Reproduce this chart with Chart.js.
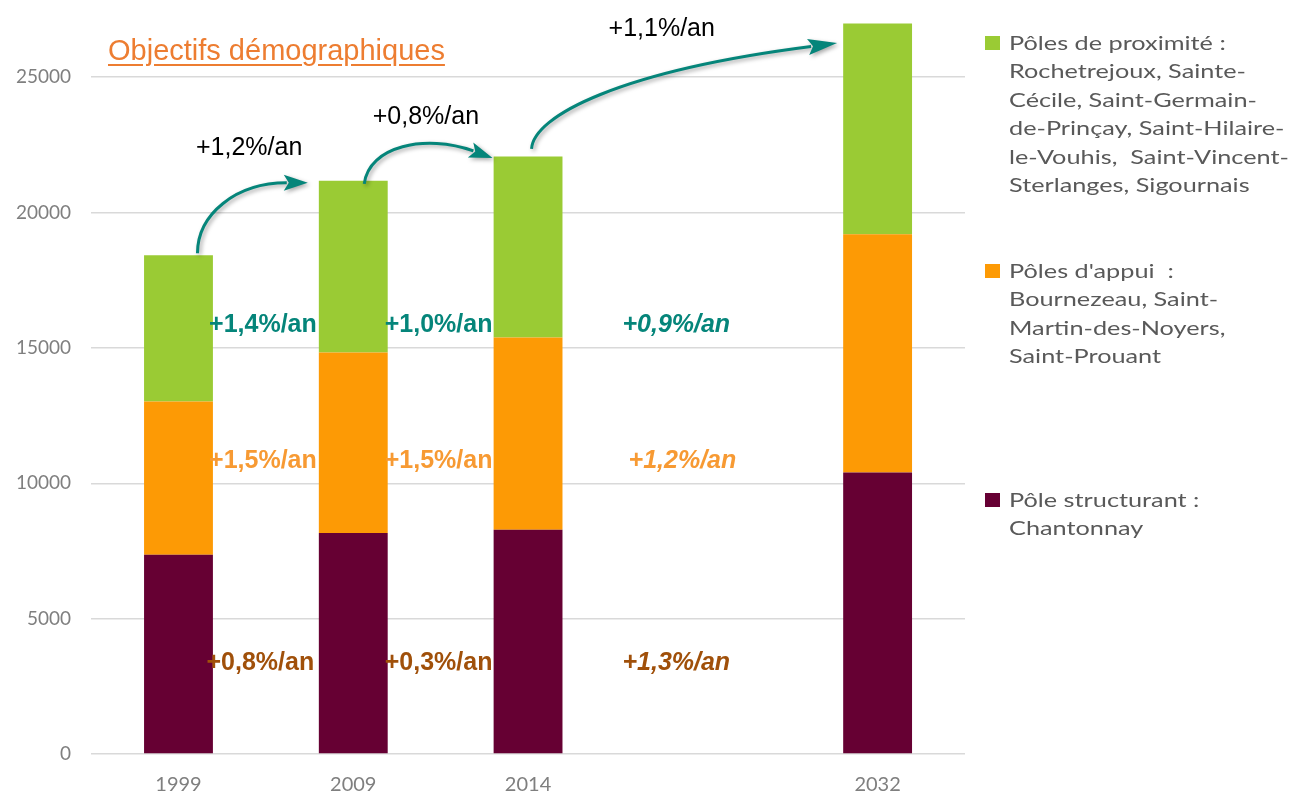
<!DOCTYPE html>
<html lang="fr">
<head>
<meta charset="utf-8">
<title>Objectifs démographiques</title>
<script src="https://cdn.jsdelivr.net/npm/chart.js@4.4.0/dist/chart.umd.min.js"></script>
<style>
  html, body { margin: 0; padding: 0; background: #fff; overflow: hidden; }
  #wrap { position: relative; width: 1290px; height: 791px; overflow: hidden; }
  #box { position: absolute; left: -16px; top: -20px; width: 1306px; height: 828px; }
  #title {
    position: absolute; left: 108px; top: 36px;
    font: 29px/29px "Liberation Sans", Arial, sans-serif;
    color: #ed7d31; text-decoration: underline; text-underline-offset: 4px;
    white-space: nowrap;
  }
  #legend { position: absolute; left: 985px; top: 0; width: 300px; }
  .item { position: absolute; left: 0; font: 19px/28.4px Lato, sans-serif; color: #595959; white-space: pre; }
  .item .sw { position: absolute; left: 0; top: 7px; width: 15px; height: 14px; }
  .item .txt { margin-left: 24px; transform: scaleX(1.33); transform-origin: 0 0; }
</style>
</head>
<body>
<div id="wrap">
  <div id="box"><canvas id="chart"></canvas></div>
  <div id="title">Objectifs démographiques</div>
  <div id="legend"></div>
</div>
<script>
// ---- données ----
const years = ['1999', '2009', '2014', '', '2032'];
const poleStructurant = [7360, 8160, 8280, null, 10400];
const polesAppui = [5660, 6670, 7100, null, 8800];
const polesProximite = [5400, 6340, 6690, null, 7780];

const yTicks = [0, 5000, 10000, 15000, 20000, 25000];

// taux de croissance affichés à côté des barres
const rateProximite = ['+1,4%/an', '+1,0%/an', '+0,9%/an'];
const rateAppui = ['+1,5%/an', '+1,5%/an', '+1,2%/an'];
const rateStructurant = ['+0,8%/an', '+0,3%/an', '+1,3%/an'];
// croissance totale (flèches)
const rateTotal = ['+1,2%/an', '+0,8%/an', '+1,1%/an'];

const legendProximite = ['Pôles de proximité :', 'Rochetrejoux, Sainte-', 'Cécile, Saint-Germain-',
  'de-Prinçay, Saint-Hilaire-', 'le-Vouhis,  Saint-Vincent-', 'Sterlanges, Sigournais'];
const legendAppui = ["Pôles d'appui  :", 'Bournezeau, Saint-', 'Martin-des-Noyers,', 'Saint-Prouant'];
const legendStructurant = ['Pôle structurant :', 'Chantonnay'];

// ---- couleurs ----
const colors = {
  maroon: '#660033',
  orange: '#fd9a05',
  green: '#9acb34',
  teal: '#05857a',
  rateOrange: '#f79a33',
  brown: '#a0500a',
  grid: '#d9d9d9',
  tick: '#7f7f7f'
};

// ---- annotations : flèches + taux ----
const arrowSpecs = [
  { from: 0, to: 1, s: [19, -2], t: [-45.5, 2], head: [24, 0], c1: [0, -39], c2: [-48, 0], label: [-1.5, -98] },
  { from: 1, to: 2, s: [11, 3], t: [-35.5, 1.4], head: [22, 8], c1: [4.5, -38], c2: [-45, -16], label: [8.5, -60] },
  { from: 2, to: 4, s: [3.5, -7.6], t: [-40.5, 19.4], head: [29, -4], c1: [2, -33], c2: [-188, 24], label: [77, -113] }
];

const rateRows = [
  { texts: rateProximite, level: 15600, color: colors.teal, xs: [0.175, 1.18, 2.54] },
  { texts: rateAppui, level: 10550, color: colors.rateOrange, xs: [0.175, 1.18, 2.575] },
  { texts: rateStructurant, level: 3100, color: colors.brown, xs: [0.16, 1.18, 2.54] }
];

const annotations = {
  id: 'annotations',
  afterDatasetsDraw(chart) {
    const { ctx, scales: { x, y } } = chart;
    const topMeta = chart.getDatasetMeta(2);
    const barTop = i => ({ x: topMeta.data[i].x, y: topMeta.data[i].y });

    // flèches courbes
    arrowSpecs.forEach((a, k) => {
      const p0 = barTop(a.from), p1 = barTop(a.to);
      const S = [p0.x + a.s[0], p0.y + a.s[1]];
      const T = [p1.x + a.t[0], p1.y + a.t[1]];
      const E = [T[0] - a.head[0], T[1] - a.head[1]];
      const len = Math.hypot(a.head[0], a.head[1]);
      const d = [a.head[0] / len, a.head[1] / len];
      const n = [-d[1], d[0]];

      ctx.save();
      ctx.shadowColor = 'rgba(0,0,0,0.35)';
      ctx.shadowBlur = 4;
      ctx.shadowOffsetX = 2;
      ctx.shadowOffsetY = 2;
      ctx.strokeStyle = colors.teal;
      ctx.fillStyle = colors.teal;
      ctx.lineWidth = 3;
      ctx.beginPath();
      ctx.moveTo(S[0], S[1]);
      ctx.bezierCurveTo(S[0] + a.c1[0], S[1] + a.c1[1], E[0] + a.c2[0], E[1] + a.c2[1], E[0] + d[0] * 3, E[1] + d[1] * 3);
      ctx.stroke();
      ctx.beginPath();
      ctx.moveTo(T[0], T[1]);
      ctx.lineTo(E[0] + n[0] * 8, E[1] + n[1] * 8);
      ctx.lineTo(E[0] + d[0] * 5, E[1] + d[1] * 5);
      ctx.lineTo(E[0] - n[0] * 8, E[1] - n[1] * 8);
      ctx.closePath();
      ctx.fill();
      ctx.restore();

      ctx.save();
      ctx.font = '25px "Liberation Sans", Arial, sans-serif';
      ctx.fillStyle = '#000';
      ctx.textBaseline = 'alphabetic';
      ctx.fillText(rateTotal[k], S[0] + a.label[0], S[1] + a.label[1]);
      ctx.restore();
    });

    // taux par type de pôle
    rateRows.forEach(row => {
      row.texts.forEach((txt, i) => {
        ctx.save();
        const italic = i === 2 ? 'italic ' : '';
        ctx.font = italic + 'bold 25px "Liberation Sans", Arial, sans-serif';
        ctx.fillStyle = row.color;
        ctx.textBaseline = 'alphabetic';
        ctx.fillText(txt, x.getPixelForValue(row.xs[i]), y.getPixelForValue(row.level));
        ctx.restore();
      });
    });
  }
};

const ctx = document.getElementById('chart');

const chart = new Chart(ctx, {
  type: 'bar',
  data: {
    labels: years,
    datasets: [
      { label: legendStructurant.join(' '), data: poleStructurant, backgroundColor: colors.maroon },
      { label: legendAppui.join(' '), data: polesAppui, backgroundColor: colors.orange },
      { label: legendProximite.join(' '), data: polesProximite, backgroundColor: colors.green }
    ]
  },
  options: {
    responsive: true,
    maintainAspectRatio: false,
    animation: false,
    barPercentage: 0.394,
    categoryPercentage: 1.0,
    layout: { padding: { left: 12, right: 325, top: 8, bottom: 0 } },
    plugins: {
      legend: { display: false },
      tooltip: { enabled: false }
    },
    scales: {
      x: {
        stacked: true,
        grid: { display: false },
        border: { display: false },
        ticks: { color: colors.tick, font: { family: 'Lato', size: 20, lineHeight: 1 }, padding: 13, maxRotation: 0 }
      },
      y: {
        stacked: true,
        min: 0,
        max: 27500,
        afterBuildTicks: scale => { scale.ticks = yTicks.map(v => ({ value: v })); },
        grid: { color: colors.grid, lineWidth: 1.5, drawTicks: false },
        border: { display: false },
        ticks: {
          color: colors.tick,
          font: { family: 'Lato', size: 19, lineHeight: 1 },
          padding: 20,
          callback: v => String(v)
        }
      }
    }
  },
  plugins: [annotations]
});

// légende HTML
const legendBlocks = [
  { lines: legendProximite, color: colors.green, top: 29 },
  { lines: legendAppui, color: colors.orange, top: 257 },
  { lines: legendStructurant, color: colors.maroon, top: 486 }
];
const legendEl = document.getElementById('legend');
legendBlocks.forEach(b => {
  const item = document.createElement('div');
  item.className = 'item';
  item.style.top = b.top + 'px';
  const sw = document.createElement('span');
  sw.className = 'sw';
  sw.style.background = b.color;
  const txt = document.createElement('div');
  txt.className = 'txt';
  txt.textContent = b.lines.join('\n');
  item.appendChild(sw);
  item.appendChild(txt);
  legendEl.appendChild(item);
});
</script>
</body>
</html>
